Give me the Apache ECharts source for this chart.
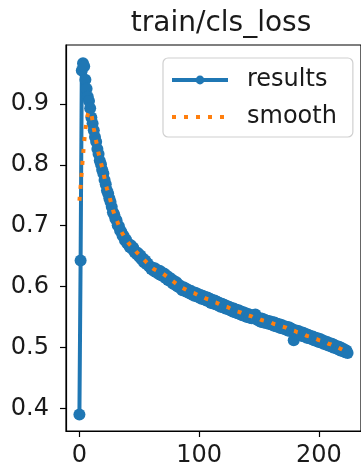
<!DOCTYPE html>
<html>
<head>
<meta charset="utf-8">
<script src="https://cdn.jsdelivr.net/npm/echarts@6/dist/echarts.min.js"></script>
<style>
html,body{margin:0;padding:0;background:#fff;}
#c{width:361px;height:470px;}
</style>
</head>
<body>
<div id="c"></div>
<script>
// ---- data ----
const chartTitle = 'train/cls_loss';
const seriesNames = ['results', 'smooth'];
const xTicks = [0, 100, 200];
const yTicks = [0.4, 0.5, 0.6, 0.7, 0.8, 0.9];

const results = [
0.390,0.643,0.955,0.967,0.962,0.940,0.925,0.912,0.905,0.893,
0.878,0.868,0.857,0.846,0.838,0.826,0.818,0.807,0.801,0.792,
0.786,0.775,0.768,0.758,0.753,0.745,0.739,0.731,0.722,0.719,
0.712,0.709,0.701,0.699,0.692,0.690,0.684,0.683,0.676,0.677,
0.671,0.670,0.665,0.668,0.662,0.664,0.657,0.657,0.653,0.655,
0.649,0.651,0.645,0.646,0.640,0.643,0.637,0.638,0.634,0.633,
0.629,0.631,0.626,0.630,0.624,0.627,0.621,0.626,0.619,0.623,
0.617,0.621,0.614,0.618,0.611,0.615,0.609,0.612,0.605,0.609,
0.603,0.607,0.600,0.603,0.598,0.600,0.594,0.599,0.593,0.597,
0.591,0.594,0.589,0.593,0.587,0.590,0.585,0.590,0.584,0.588,
0.582,0.586,0.580,0.585,0.579,0.583,0.577,0.582,0.576,0.580,
0.573,0.578,0.572,0.577,0.571,0.575,0.569,0.573,0.567,0.572,
0.566,0.570,0.564,0.568,0.563,0.567,0.561,0.565,0.559,0.564,
0.558,0.562,0.556,0.561,0.555,0.559,0.553,0.558,0.552,0.556,
0.550,0.555,0.549,0.553,0.548,0.553,0.549,0.554,0.546,0.549,
0.544,0.548,0.542,0.547,0.541,0.545,0.540,0.544,0.539,0.543,
0.538,0.542,0.536,0.541,0.535,0.539,0.534,0.538,0.532,0.537,
0.531,0.535,0.530,0.534,0.528,0.533,0.527,0.531,0.529,0.512,
0.525,0.528,0.522,0.527,0.521,0.525,0.519,0.524,0.518,0.522,
0.516,0.521,0.515,0.519,0.514,0.518,0.512,0.516,0.511,0.515,
0.509,0.514,0.508,0.512,0.506,0.510,0.505,0.509,0.503,0.507,
0.502,0.506,0.500,0.504,0.499,0.502,0.497,0.501,0.495,0.499,
0.494,0.497,0.492,0.495,0.491
];

const smooth = [
0.741,0.765,0.790,0.815,0.838,0.858,0.873,0.883,0.888,0.889,
0.884,0.872,0.860,0.850,0.839,0.829,0.819,0.811,0.803,0.796,
0.788,0.778,0.768,0.761,0.755,0.749,0.741,0.733,0.726,0.720,
0.715,0.710,0.705,0.700,0.695,0.691,0.687,0.684,0.680,0.677,
0.674,0.671,0.669,0.667,0.665,0.663,0.661,0.658,0.656,0.654,
0.652,0.650,0.648,0.646,0.644,0.642,0.640,0.638,0.636,0.634,
0.632,0.630,0.629,0.628,0.627,0.626,0.625,0.624,0.623,0.622,
0.621,0.620,0.618,0.617,0.615,0.614,0.612,0.611,0.609,0.608,
0.606,0.605,0.603,0.602,0.600,0.599,0.598,0.597,0.596,0.595,
0.594,0.593,0.592,0.591,0.590,0.589,0.589,0.588,0.587,0.586,
0.585,0.584,0.584,0.583,0.582,0.581,0.580,0.580,0.579,0.578,
0.577,0.576,0.575,0.575,0.574,0.573,0.572,0.571,0.570,0.570,
0.569,0.568,0.567,0.566,0.566,0.565,0.564,0.563,0.562,0.562,
0.561,0.560,0.559,0.559,0.558,0.557,0.556,0.556,0.555,0.554,
0.553,0.553,0.552,0.551,0.551,0.550,0.549,0.549,0.548,0.547,
0.547,0.546,0.545,0.545,0.544,0.543,0.543,0.542,0.542,0.541,
0.541,0.540,0.539,0.539,0.538,0.537,0.537,0.536,0.535,0.535,
0.534,0.533,0.533,0.532,0.531,0.531,0.530,0.529,0.528,0.528,
0.527,0.526,0.525,0.525,0.524,0.523,0.522,0.522,0.521,0.520,
0.519,0.519,0.518,0.517,0.517,0.516,0.515,0.514,0.514,0.513,
0.512,0.511,0.511,0.510,0.509,0.508,0.508,0.507,0.506,0.505,
0.505,0.504,0.503,0.502,0.501,0.501,0.500,0.499,0.498,0.497,
0.496,0.496,0.495,0.494,0.493
];

// ---- chart ----
const resultsData = results.map((v, i) => [i, v]);
const smoothData = smooth.map((v, i) => [i, v]);
const font = 'DejaVu Sans';
const textColor = '#1a1a1a';
const blue = '#1f77b4';
const orange = '#ff7f0e';

const chart = echarts.init(document.getElementById('c'), null, {renderer: 'canvas'});
chart.setOption({
  animation: false,
  backgroundColor: '#ffffff',
  title: {
    text: chartTitle,
    left: 216, top: 5, textAlign: 'center',
    textStyle: {fontFamily: font, fontSize: 28, fontWeight: 'normal', color: textColor}
  },
  grid: {
    left: 66, right: -3, top: 45, bottom: 39,
    show: true, borderColor: '#000', borderWidth: 1.2, backgroundColor: 'transparent'
  },
  legend: {
    data: [
      {name: seriesNames[0], lineStyle: {width: 4, color: blue}, itemStyle: {color: blue}},
      {name: seriesNames[1], lineStyle: {width: 4, color: orange, type: [4, 8], cap: 'butt'},
       itemStyle: {opacity: 0}}
    ],
    orient: 'vertical',
    left: 163, top: 58,
    itemWidth: 56, itemHeight: 11, itemGap: 13,
    padding: [10, 16, 8, 7],
    backgroundColor: '#fff',
    borderColor: '#d0d0d0', borderWidth: 1.2, borderRadius: 5,
    textStyle: {fontFamily: font, fontSize: 24, color: textColor, padding: [0, 0, 0, 14]}
  },
  xAxis: {
    type: 'value', min: -11.2, max: 235.2,
    axisLine: {show: true, onZero: false, lineStyle: {color: '#000', width: 1.2}},
    axisTick: {show: true, length: 6, customValues: xTicks, lineStyle: {color: '#000', width: 1.2}},
    axisLabel: {customValues: xTicks, margin: 13, fontFamily: font, fontSize: 24, color: textColor},
    splitLine: {show: false}
  },
  yAxis: {
    type: 'value', min: 0.3627, max: 0.997,
    axisLine: {show: true, onZero: false, lineStyle: {color: '#000', width: 1.2}},
    axisTick: {show: true, length: 6, customValues: yTicks, lineStyle: {color: '#000', width: 1.2}},
    axisLabel: {customValues: yTicks, margin: 17, fontFamily: font, fontSize: 24, color: textColor,
      formatter: v => v.toFixed(1)},
    splitLine: {show: false}
  },
  series: [
    {
      name: seriesNames[0], type: 'line', data: resultsData,
      symbol: 'circle', symbolSize: 12, showAllSymbol: true,
      itemStyle: {color: blue},
      lineStyle: {color: blue, width: 4},
      z: 2
    },
    {
      name: seriesNames[1], type: 'line', data: smoothData,
      symbol: 'none',
      itemStyle: {color: orange},
      lineStyle: {color: orange, width: 4, type: [4, 8], cap: 'butt'},
      z: 3
    }
  ]
});
</script>
</body>
</html>
